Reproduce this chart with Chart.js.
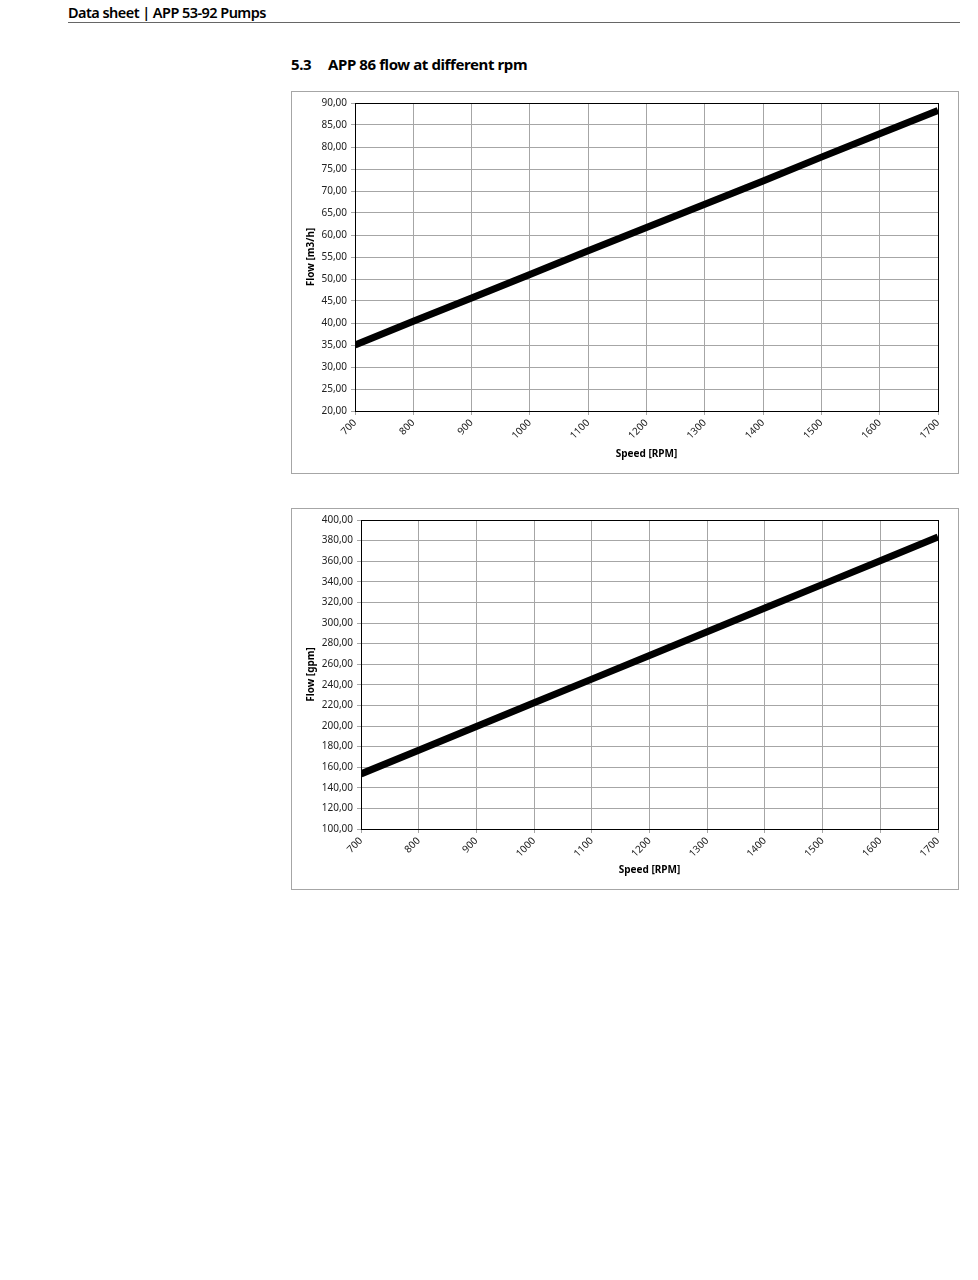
<!DOCTYPE html>
<html>
<head>
<meta charset="utf-8">
<script src="https://cdn.jsdelivr.net/npm/chart.js@4.4.1/dist/chart.umd.min.js"></script>
<style>
  html, body { margin: 0; padding: 0; background: #fff; }
  body { width: 978px; height: 1280px; position: relative; font-family: "Noto Sans", sans-serif; color: #000; }
  .hdr { position: absolute; left: 68px; top: 2px; font-size: 14.5px; font-weight: 600; letter-spacing: -0.55px; }
  .hdr-line { position: absolute; left: 68px; top: 22px; width: 892px; height: 1px; background: #666; }
  .sec { position: absolute; top: 54px; font-size: 15px; font-weight: 700; letter-spacing: -0.4px; }
  .box { position: absolute; left: 291px; width: 666px; border: 1px solid #a6a6a6; }
  .box canvas { display: block; }
</style>
</head>
<body>
<div class="hdr">Data sheet | APP 53-92 Pumps</div>
<div class="hdr-line"></div>
<div class="sec" style="left:291px">5.3</div>
<div class="sec" style="left:328px">APP 86 flow at different rpm</div>

<div class="box" style="top:91px; height:381px;"><canvas id="c1" width="666" height="381"></canvas></div>
<div class="box" style="top:508px; height:380px;"><canvas id="c2" width="666" height="380"></canvas></div>

<script>
// speed in rpm, shared by both charts
const rpm = [700, 800, 900, 1000, 1100, 1200, 1300, 1400, 1500, 1600, 1700];
// flow
const flowM3h = [35.0, 40.4, 45.7, 51.0, 56.4, 61.7, 67.0, 72.3, 77.7, 83.0, 88.3];
const flowGpm = [153.5, 176.5, 199.5, 222.5, 245.5, 268.5, 291.5, 314.5, 337.5, 360.5, 383.5];

const AXIS_FONT = { family: '"Noto Sans", sans-serif', size: 10 };
const TITLE_FONT = { family: '"Noto Sans", sans-serif', size: 10, weight: 'bold' };

// black frame around the plot area, like the Excel original
const frame = {
  id: 'frame',
  afterDraw(chart) {
    const { ctx, chartArea: a } = chart;
    ctx.save();
    ctx.strokeStyle = '#000';
    ctx.lineWidth = 1;
    ctx.strokeRect(Math.round(a.left) + 0.5, Math.round(a.top) + 0.5,
      Math.round(a.right - a.left), Math.round(a.bottom - a.top));
    ctx.restore();
  },
};

function comma(v) {
  return v.toFixed(2).replace('.', ',');
}

function makeChart(id, values, yMin, yMax, yStep, yTitle, yWidth, xHeight) {
  return new Chart(document.getElementById(id), {
    type: 'line',
    data: {
      datasets: [{
        data: rpm.map((x, i) => ({ x, y: values[i] })),
        borderColor: '#000',
        borderWidth: 7,
        pointRadius: 0,
        tension: 0,
        borderCapStyle: 'butt',
        clip: 0,
      }],
    },
    options: {
      responsive: false,
      animation: false,
      devicePixelRatio: 1,
      layout: { padding: { top: 11, right: 20, left: 0, bottom: 0 } },
      plugins: { legend: { display: false }, tooltip: { enabled: false } },
      scales: {
        x: {
          type: 'linear',
          min: 700,
          max: 1700,
          afterFit(scale) { scale.height = xHeight; },
          ticks: {
            stepSize: 100,
            minRotation: 45,
            maxRotation: 45,
            color: '#222',
            font: AXIS_FONT,
            padding: 2,
            callback: (v) => String(v),
          },
          grid: { color: '#a6a6a6', tickLength: 4 },
          border: { color: '#000' },
          title: { display: true, text: 'Speed [RPM]', color: '#000', font: TITLE_FONT, padding: { top: 2, bottom: 13 } },
        },
        y: {
          min: yMin,
          max: yMax,
          afterFit(scale) { scale.width = yWidth; },
          ticks: { stepSize: yStep, color: '#222', font: AXIS_FONT, padding: 4, callback: comma },
          grid: { color: '#a6a6a6', tickLength: 4 },
          border: { color: '#000' },
          title: { display: true, text: yTitle, color: '#000', font: TITLE_FONT, padding: { top: 13, bottom: 0 } },
        },
      },
    },
    plugins: [frame],
  });
}

makeChart('c1', flowM3h, 20, 90, 5, 'Flow [m3/h]', 63, 62);
makeChart('c2', flowGpm, 100, 400, 20, 'Flow [gpm]', 69, 60);
</script>
</body>
</html>
